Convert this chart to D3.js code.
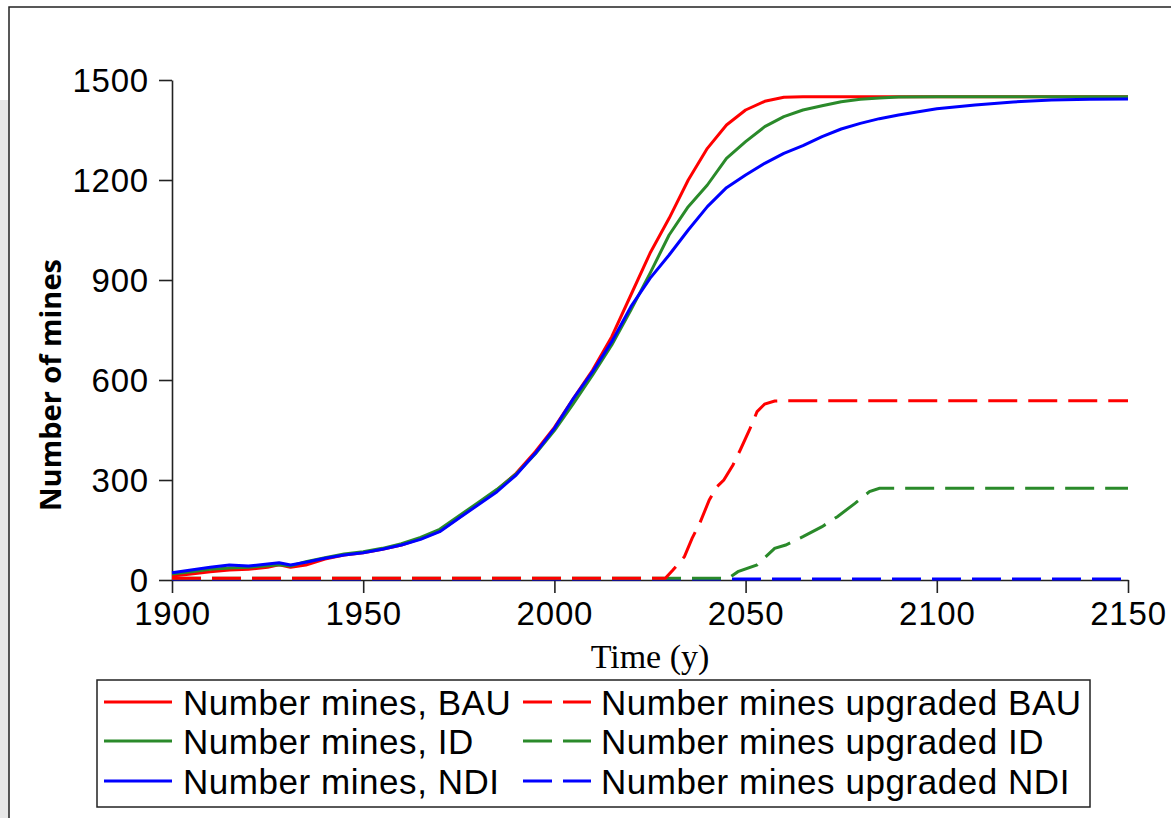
<!DOCTYPE html>
<html>
<head>
<meta charset="utf-8">
<script src="https://cdn.jsdelivr.net/npm/d3@7"></script>
<style>
  html, body { margin: 0; padding: 0; background: #fff; }
  svg { display: block; }
</style>
</head>
<body>
<svg id="chart" width="1171" height="818"></svg>
<script>
// ---------------- DATA ----------------
const years = [1900,1905,1910,1915,1920,1925,1928,1931,1935,1940,1945,1950,1955,1960,1965,1970,1975,1980,1985,1990,1995,2000,2005,2010,2015,2020,2025,2030,2035,2040,2045,2050,2055,2060,2065,2070,2075,2080,2085,2090,2100,2110,2120,2130,2140,2150];

const minesBAU = [12,18,25,30,32,38,46,38,45,63,75,82,92,105,124,147,187,228,270,320,385,458,545,630,730,855,980,1085,1200,1295,1365,1410,1436,1448,1450,1450,1450,1450,1450,1450,1450,1450,1450,1450,1450,1450];
const minesID  = [18,25,32,36,38,43,46,42,55,67,78,85,95,109,128,152,192,232,272,318,378,448,530,615,705,810,920,1035,1120,1185,1265,1315,1360,1390,1410,1423,1435,1442,1446,1449,1450,1450,1450,1450,1450,1450];
const minesNDI = [22,30,38,45,42,48,52,45,53,65,75,82,92,105,122,145,185,225,265,315,380,455,545,625,715,820,905,975,1050,1120,1177,1215,1250,1280,1303,1330,1353,1370,1384,1395,1414,1425,1434,1440,1442,1443];

const upYearsBAU = [1900,2029,2031,2034,2036,2038,2040.5,2042.5,2044.3,2046.7,2048.6,2051,2053,2055,2057.6,2060,2150];
const upBAU      = [5,5,30,70,125,170,240,280,300,345,390,450,505,528,537,538,538];
const upYearsID  = [1900,2045.5,2048,2053,2057.6,2060.5,2065,2070,2074,2078.6,2082.4,2085,2150];
const upID       = [5,5,25,45,95,105,130,160,190,230,265,275,275];
const upYearsNDI = [1900,2150];
const upNDI      = [3,3];

const yTicks = [0,300,600,900,1200,1500];
const xTicks = [1900,1950,2000,2050,2100,2150];

const seriesNames = ["Number mines, BAU","Number mines, ID","Number mines, NDI",
                     "Number mines upgraded BAU","Number mines upgraded ID","Number mines upgraded NDI"];
const seriesColors = ["#ff0000","#2a8a2a","#0000ff"];

// ---------------- DRAW ----------------
const svg = d3.select("#chart");

// outer frame + grey strip
svg.append("rect").attr("x",0).attr("y",100).attr("width",9).attr("height",718).attr("fill","#e8e8e8");
svg.append("rect").attr("x",9).attr("y",7).attr("width",1200).attr("height",900)
  .attr("fill","#fff").attr("stroke","#222").attr("stroke-width",1.5);

const x = d3.scaleLinear().domain([1900,2150]).range([172,1128]);
const y = d3.scaleLinear().domain([0,1500]).range([580,80]);

const tickFont = "'Liberation Sans', Arial, Helvetica, sans-serif";
const fmt = d3.format("d");

const gy = svg.append("g").attr("transform","translate(172,0)")
  .call(d3.axisLeft(y).tickValues(yTicks).tickFormat(fmt).tickSize(13).tickSizeOuter(0).tickPadding(10));
const gx = svg.append("g").attr("transform","translate(0,580)")
  .call(d3.axisBottom(x).tickValues(xTicks).tickFormat(fmt).tickSize(13).tickSizeOuter(0).tickPadding(8));

[gy,gx].forEach(g=>{
  g.selectAll("path.domain").attr("stroke","#222").attr("stroke-width",1.6);
  g.selectAll(".tick line").attr("stroke","#222").attr("stroke-width",1.6);
  g.selectAll(".tick text").attr("fill","#000").style("font-family",tickFont)
    .style("font-size","33px").style("letter-spacing","0.8px");
});
gy.selectAll(".tick text").attr("dy","0.36em");
gx.selectAll(".tick text").attr("dy","0.74em");

// axis titles
svg.append("text").attr("x",650).attr("y",668).attr("text-anchor","middle")
  .style("font-family","'Liberation Serif','Times New Roman',serif").style("font-size","34px")
  .text("Time (y)");
svg.append("text").attr("transform","translate(61,385) rotate(-90)").attr("text-anchor","middle")
  .style("font-family","'Open Sans', sans-serif").style("font-weight","bold").style("font-size","29px")
  .text("Number of mines");

// lines
const line = (xs, vs) => d3.line().x((d,i)=>x(xs[i])).y((d,i)=>y(vs[i]))(vs);
const dash = "29,11";

const dashed = [[upYearsNDI,upNDI,2],[upYearsID,upID,1],[upYearsBAU,upBAU,0]];
dashed.forEach(([xs,vs,c])=>{
  svg.append("path").attr("d",line(xs,vs)).attr("fill","none")
    .attr("stroke",seriesColors[c]).attr("stroke-width",3).attr("stroke-dasharray",dash);
});
const solids = [[minesBAU,0],[minesID,1],[minesNDI,2]];
solids.forEach(([vs,c])=>{
  svg.append("path").attr("d",line(years,vs)).attr("fill","none")
    .attr("stroke",seriesColors[c]).attr("stroke-width",3).attr("stroke-linejoin","round");
});

// legend
const lg = svg.append("g");
lg.append("rect").attr("x",97).attr("y",680).attr("width",993).attr("height",127)
  .attr("fill","#fff").attr("stroke","#222").attr("stroke-width",1.5);
const rowY = [702,741,781];
seriesNames.forEach((name,i)=>{
  const col = Math.floor(i/3), r = i%3;
  const x0 = col===0 ? 104 : 523;
  const x1 = col===0 ? 172 : 591;
  const tx = col===0 ? 183 : 601;
  lg.append("line").attr("x1",x0).attr("x2",x1).attr("y1",rowY[r]).attr("y2",rowY[r])
    .attr("stroke",seriesColors[r]).attr("stroke-width",3)
    .attr("stroke-dasharray", col===1 ? dash : null);
  lg.append("text").attr("x",tx).attr("y",rowY[r]+13)
    .style("font-family",tickFont).style("font-size","35px").style("letter-spacing","0.55px").text(name);
});
</script>
</body>
</html>
